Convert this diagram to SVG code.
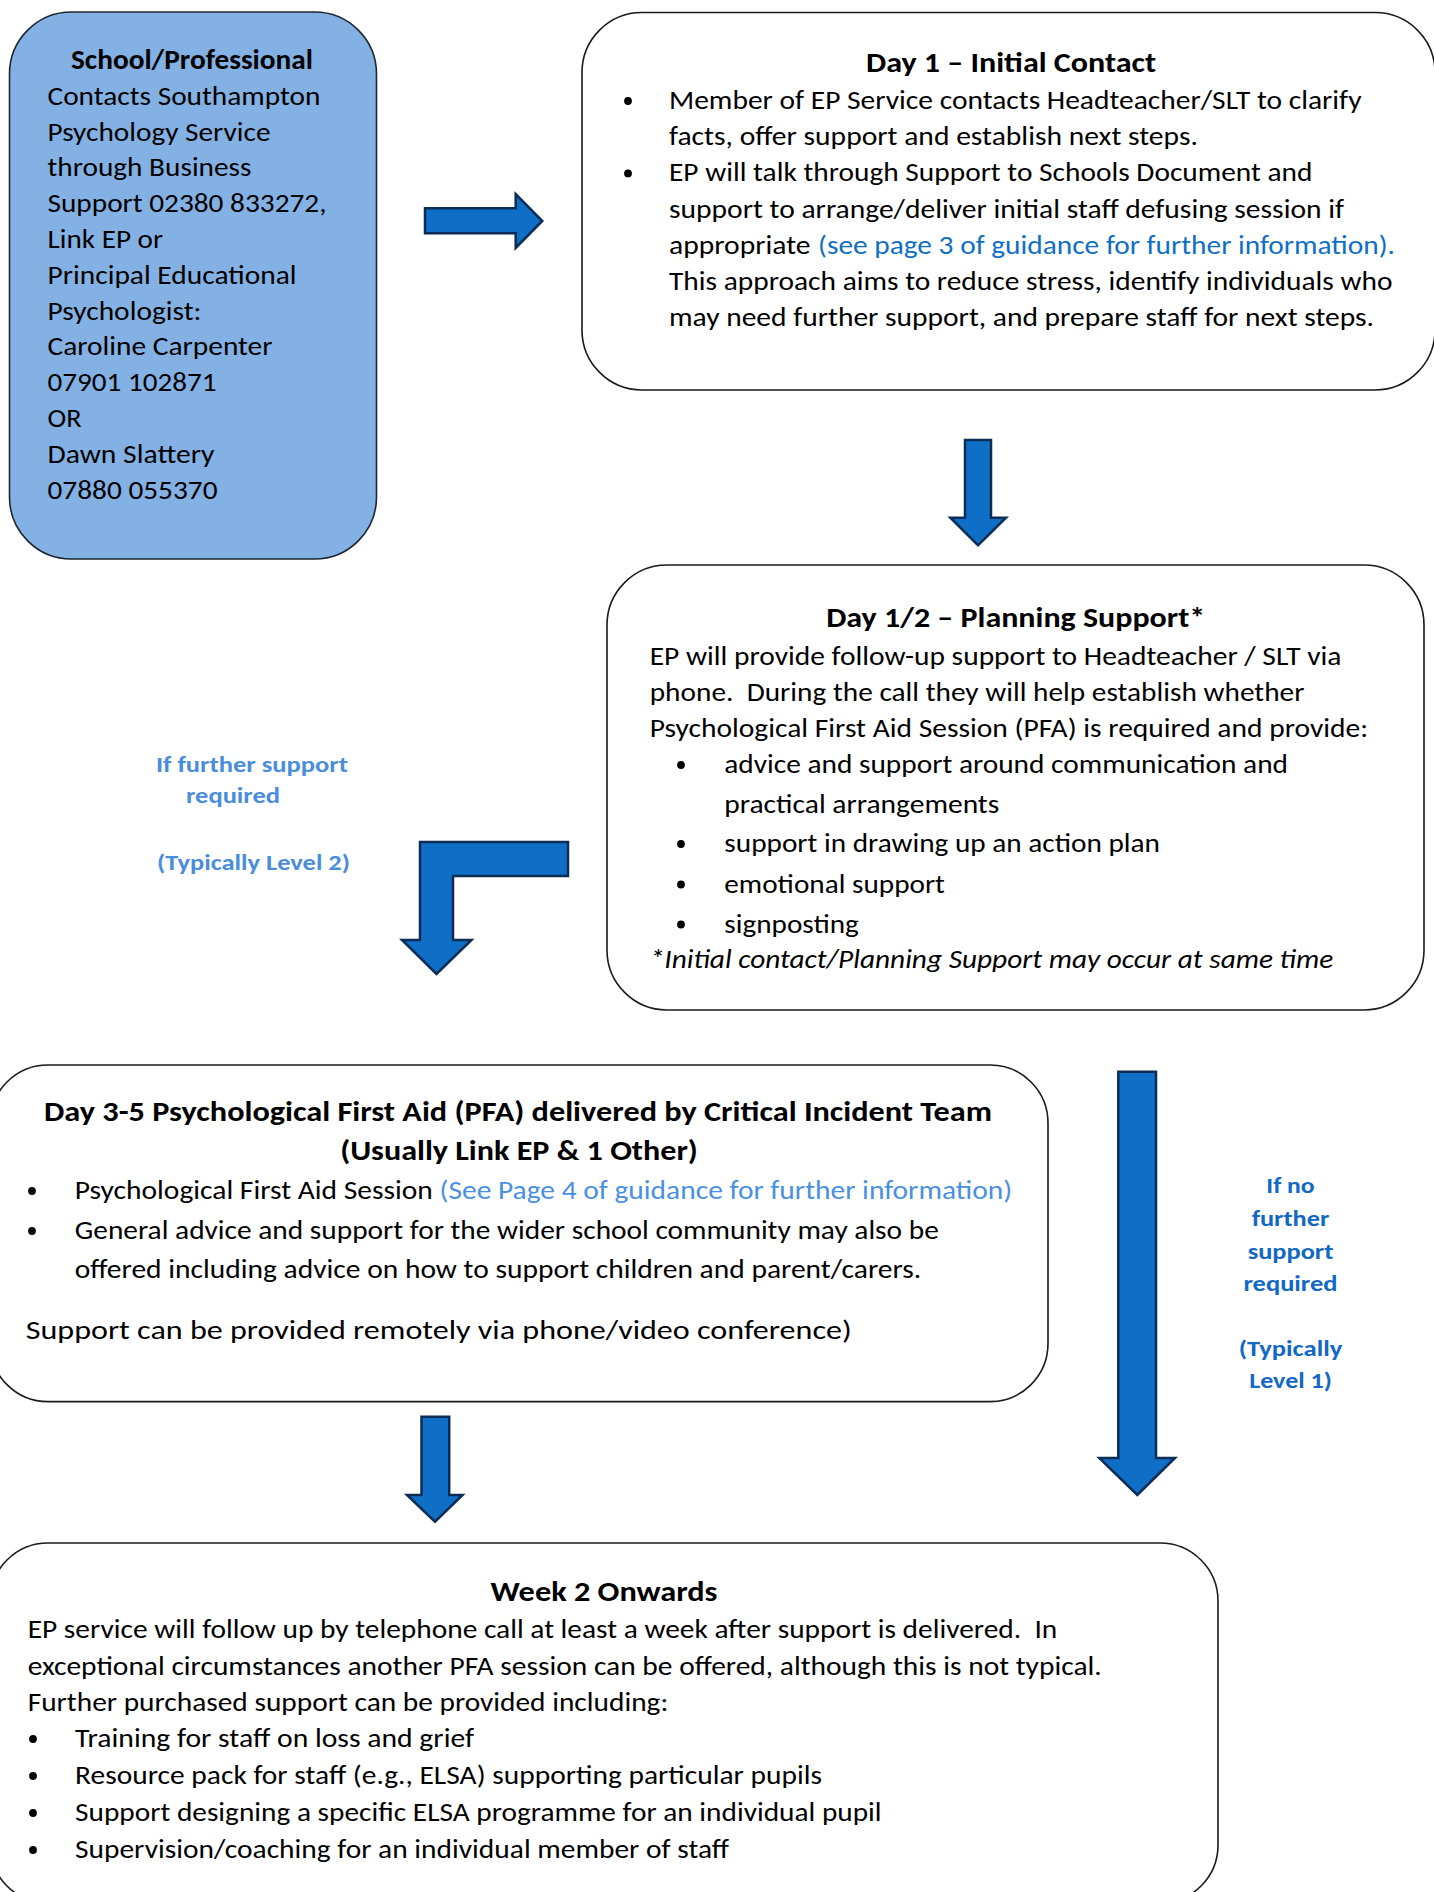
<svg xmlns="http://www.w3.org/2000/svg" width="1434" height="1892" viewBox="0 0 1434 1892">
<style>
.box{fill:#fff;stroke:#1a1a1a;stroke-width:1.6}
.box1{fill:#84B1E4;stroke:#1f2630;stroke-width:1.6}
.arr{fill:#0F6FC6;stroke:#0D2C54;stroke-width:2.5;stroke-linejoin:miter}
.dot{fill:#000}
text{font-family:Carlito,Lato,sans-serif;font-size:27.5px;fill:#000}
.b{font-weight:bold}
.i{font-style:italic}
.c{text-anchor:middle}
.lk1{fill:#0F6FC6}
.lk2{fill:#4A90E2}
.l1{fill:#4A8DDC;font-weight:bold;font-size:23px;text-anchor:middle}
.l2{fill:#1268C4;font-weight:bold;font-size:23px;text-anchor:middle}
</style>
<rect width="1434" height="1892" fill="#fff"/>

<g id="connectors">
  <polygon class="arr" points="425,208.3 515.7,208.3 515.7,194 542.3,221 515.7,248 515.7,233.3 425,233.3"/>
  <polygon class="arr" points="965,440 991,440 991,517.7 1006,517.7 978,545.3 950.4,517.7 965,517.7"/>
  <polygon class="arr" points="568,842 420,842 420,940 402,940 436.5,974 471.5,940 453,940 453,876 568,876"/>
  <polygon class="arr" points="1118.3,1071.7 1156,1071.7 1156,1458 1175,1458 1137.3,1495 1099.3,1458 1118.3,1458"/>
  <polygon class="arr" points="421.5,1416.7 449.2,1416.7 449.2,1495 462.6,1495 435,1521.7 407,1495 421.5,1495"/>
</g>

<g id="node-school">
  <rect class="box1" x="9.5" y="12" width="367" height="547" rx="62"/>
  <text class="b" x="71" y="68.5" textLength="242" lengthAdjust="spacingAndGlyphs">School/Professional</text>
  <text x="47.5" y="104.8" textLength="273" lengthAdjust="spacingAndGlyphs">Contacts Southampton</text>
  <text x="47.5" y="140.6" textLength="223" lengthAdjust="spacingAndGlyphs">Psychology Service</text>
  <text x="47.5" y="176.4" textLength="204" lengthAdjust="spacingAndGlyphs">through Business</text>
  <text x="47.5" y="212.2" textLength="279" lengthAdjust="spacingAndGlyphs">Support 02380 833272,</text>
  <text x="47.5" y="248" textLength="115.6" lengthAdjust="spacingAndGlyphs">Link EP or</text>
  <text x="47.5" y="283.8" textLength="249" lengthAdjust="spacingAndGlyphs">Principal Educational</text>
  <text x="47.5" y="319.6" textLength="154" lengthAdjust="spacingAndGlyphs">Psychologist:</text>
  <text x="47.5" y="355.4" textLength="225" lengthAdjust="spacingAndGlyphs">Caroline Carpenter</text>
  <text x="47.5" y="391.2" textLength="169" lengthAdjust="spacingAndGlyphs">07901 102871</text>
  <text x="47.5" y="427" textLength="34" lengthAdjust="spacingAndGlyphs">OR</text>
  <text x="47.5" y="462.8" textLength="167" lengthAdjust="spacingAndGlyphs">Dawn Slattery</text>
  <text x="47.5" y="498.6" textLength="170" lengthAdjust="spacingAndGlyphs">07880 055370</text>
</g>

<g id="node-day1">
  <rect class="box" x="582" y="12.5" width="853" height="377.5" rx="60"/>
  <text class="b c" x="1011" y="71.7" textLength="290" lengthAdjust="spacingAndGlyphs">Day 1 – Initial Contact</text>
  <circle class="dot" cx="628" cy="101" r="3.9"/>
  <circle class="dot" cx="628" cy="173.4" r="3.9"/>
  <text x="669" y="109" textLength="692.6" lengthAdjust="spacingAndGlyphs">Member of EP Service contacts Headteacher/SLT to clarify</text>
  <text x="669" y="145.2" textLength="529" lengthAdjust="spacingAndGlyphs">facts, offer support and establish next steps.</text>
  <text x="669" y="181.4" textLength="643.5" lengthAdjust="spacingAndGlyphs">EP will talk through Support to Schools Document and</text>
  <text x="669" y="217.6" textLength="675" lengthAdjust="spacingAndGlyphs">support to arrange/deliver initial staff defusing session if</text>
  <text x="669" y="253.8" textLength="141.6" lengthAdjust="spacingAndGlyphs">appropriate</text>
  <text class="lk1" x="818" y="253.8" textLength="577" lengthAdjust="spacingAndGlyphs">(see page 3 of guidance for further information).</text>
  <text x="669" y="290" textLength="723.4" lengthAdjust="spacingAndGlyphs">This approach aims to reduce stress, identify individuals who</text>
  <text x="669" y="326.2" textLength="705" lengthAdjust="spacingAndGlyphs">may need further support, and prepare staff for next steps.</text>
</g>

<g id="node-day12">
  <rect class="box" x="607" y="565" width="817" height="445" rx="60"/>
  <text class="b c" x="1015.7" y="627" textLength="379" lengthAdjust="spacingAndGlyphs">Day 1/2 – Planning Support*</text>
  <text x="649.7" y="664.5" textLength="691.7" lengthAdjust="spacingAndGlyphs">EP will provide follow-up support to Headteacher / SLT via</text>
  <text x="649.7" y="700.7" textLength="654.7" lengthAdjust="spacingAndGlyphs" xml:space="preserve">phone.  During the call they will help establish whether</text>
  <text x="649.7" y="736.9" textLength="718.4" lengthAdjust="spacingAndGlyphs">Psychological First Aid Session (PFA) is required and provide:</text>
  <circle class="dot" cx="681" cy="765" r="3.9"/>
  <circle class="dot" cx="681" cy="844" r="3.9"/>
  <circle class="dot" cx="681" cy="884.5" r="3.9"/>
  <circle class="dot" cx="681" cy="924.5" r="3.9"/>
  <text x="724.3" y="773" textLength="563.7" lengthAdjust="spacingAndGlyphs">advice and support around communication and</text>
  <text x="724.3" y="812.7" textLength="275" lengthAdjust="spacingAndGlyphs">practical arrangements</text>
  <text x="724.3" y="852" textLength="435.7" lengthAdjust="spacingAndGlyphs">support in drawing up an action plan</text>
  <text x="724.3" y="892.5" textLength="220.6" lengthAdjust="spacingAndGlyphs">emotional support</text>
  <text x="724.3" y="932.5" textLength="134.5" lengthAdjust="spacingAndGlyphs">signposting</text>
  <text class="i" x="649.7" y="968" textLength="683.5" lengthAdjust="spacingAndGlyphs">*Initial contact/Planning Support may occur at same time</text>
</g>

<g id="label-level2">
  <text class="l1" x="252" y="771.7" textLength="192" lengthAdjust="spacingAndGlyphs">If further support</text>
  <text class="l1" x="233" y="802.7" textLength="94" lengthAdjust="spacingAndGlyphs">required</text>
  <text class="l1" x="253.5" y="870" textLength="193" lengthAdjust="spacingAndGlyphs">(Typically Level 2)</text>
</g>

<g id="node-day35">
  <rect class="box" x="-10" y="1065" width="1058" height="336.6" rx="58"/>
  <text class="b c" x="518" y="1121" textLength="948" lengthAdjust="spacingAndGlyphs">Day 3-5 Psychological First Aid (PFA) delivered by Critical Incident Team</text>
  <text class="b c" x="519" y="1160" textLength="357.7" lengthAdjust="spacingAndGlyphs">(Usually Link EP &amp; 1 Other)</text>
  <circle class="dot" cx="32" cy="1191" r="3.9"/>
  <circle class="dot" cx="32" cy="1231" r="3.9"/>
  <text x="74.8" y="1199" textLength="358" lengthAdjust="spacingAndGlyphs">Psychological First Aid Session</text>
  <text class="lk2" x="439.5" y="1199" textLength="572.7" lengthAdjust="spacingAndGlyphs">(See Page 4 of guidance for further information)</text>
  <text x="74.8" y="1239" textLength="864" lengthAdjust="spacingAndGlyphs">General advice and support for the wider school community may also be</text>
  <text x="74.8" y="1278" textLength="846.5" lengthAdjust="spacingAndGlyphs">offered including advice on how to support children and parent/carers.</text>
  <text x="25.7" y="1339" textLength="826" lengthAdjust="spacingAndGlyphs">Support can be provided remotely via phone/video conference)</text>
</g>

<g id="label-level1">
  <text class="l2" x="1290.5" y="1193" textLength="48.3" lengthAdjust="spacingAndGlyphs">If no</text>
  <text class="l2" x="1290.5" y="1226" textLength="77.7" lengthAdjust="spacingAndGlyphs">further</text>
  <text class="l2" x="1290.5" y="1258.5" textLength="85.7" lengthAdjust="spacingAndGlyphs">support</text>
  <text class="l2" x="1290.5" y="1291" textLength="94" lengthAdjust="spacingAndGlyphs">required</text>
  <text class="l2" x="1290.5" y="1355.5" textLength="103.7" lengthAdjust="spacingAndGlyphs">(Typically</text>
  <text class="l2" x="1290.5" y="1388" textLength="82.7" lengthAdjust="spacingAndGlyphs">Level 1)</text>
</g>

<g id="node-week2">
  <rect class="box" x="-10" y="1543" width="1228" height="360" rx="58"/>
  <text class="b c" x="604" y="1601" textLength="227" lengthAdjust="spacingAndGlyphs">Week 2 Onwards</text>
  <text x="27.7" y="1638" textLength="1029.6" lengthAdjust="spacingAndGlyphs" xml:space="preserve">EP service will follow up by telephone call at least a week after support is delivered.  In</text>
  <text x="27.7" y="1674.5" textLength="1074" lengthAdjust="spacingAndGlyphs">exceptional circumstances another PFA session can be offered, although this is not typical.</text>
  <text x="27.7" y="1710.5" textLength="640.6" lengthAdjust="spacingAndGlyphs">Further purchased support can be provided including:</text>
  <circle class="dot" cx="33" cy="1739" r="3.9"/>
  <circle class="dot" cx="33" cy="1776" r="3.9"/>
  <circle class="dot" cx="33" cy="1813" r="3.9"/>
  <circle class="dot" cx="33" cy="1850" r="3.9"/>
  <text x="75" y="1747" textLength="399" lengthAdjust="spacingAndGlyphs">Training for staff on loss and grief</text>
  <text x="75" y="1784" textLength="747" lengthAdjust="spacingAndGlyphs">Resource pack for staff (e.g., ELSA) supporting particular pupils</text>
  <text x="75" y="1821" textLength="806.6" lengthAdjust="spacingAndGlyphs">Support designing a specific ELSA programme for an individual pupil</text>
  <text x="75" y="1858" textLength="654" lengthAdjust="spacingAndGlyphs">Supervision/coaching for an individual member of staff</text>
</g>
</svg>
